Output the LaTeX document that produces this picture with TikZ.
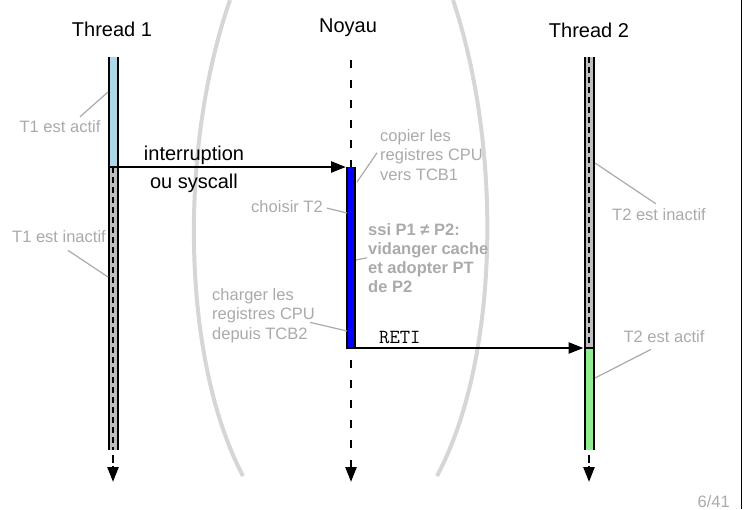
\documentclass[tikz,border=0pt]{standalone}
\usepackage{fontspec}
\setmainfont{Liberation Sans}
\usetikzlibrary{arrows.meta, calc, positioning}
\definecolor{notegray}{RGB}{170,170,170}
\definecolor{arcgray}{RGB}{214,214,214}
\definecolor{activeblue}{RGB}{173,216,230}
\definecolor{activegreen}{RGB}{144,238,144}
\definecolor{idlegray}{RGB}{190,190,190}

\begin{document}
\begin{tikzpicture}[
      x=1pt, y=-1pt,
      >={Triangle[length=15pt,width=11pt]},
      title/.style={
        font=\fontsize{20}{24}\selectfont,
        anchor=base,
        inner sep=0pt,
      },
      bar/.style={
        line width=2pt,
        double distance=7pt,
      },
      kernel-bar/.style={
        line width=2pt,
        double=blue,
        double distance=6pt,
      },
      idle-dash/.style={
        line width=2pt,
        dash pattern=on 6pt off 4pt,
      },
      lifeline/.style={
        ->,
        line width=2.5pt,
        dash pattern=on 8pt off 12pt,
      },
      lifeline-end/.style={
        ->,
        line width=2.5pt,
        dash pattern=on 8pt off 3pt,
      },
      message/.style={
        ->,
        line width=2.5pt,
      },
      note/.style={
        text=notegray,
        font=\fontsize{16.5}{19.5}\selectfont,
        inner sep=0pt,
        align=left,
      },
      note-bold/.style={
        note,
        font=\fontsize{16.5}{19}\selectfont\bfseries,
      },
      pointer/.style={
        draw=notegray,
        line width=1.2pt,
      },
      separator/.style={
        draw=arcgray,
        line width=4pt,
      },
    ]
    \useasboundingbox (0,0) rectangle (747,509);
    \coordinate (t1-top) at (113,57);
    \coordinate (t1-switch) at (113,167);
    \coordinate (t1-end) at (113,450);
    \coordinate (t1-tip) at (113,482);
    \coordinate (k-top) at (351,60);
    \coordinate (k-in) at (351,167);
    \coordinate (k-out) at (351,348);
    \coordinate (k-tip) at (351,482);
    \coordinate (t2-top) at (589,57);
    \coordinate (t2-switch) at (589,348);
    \coordinate (t2-end) at (589,450);
    \coordinate (t2-tip) at (589,482);
    \coordinate (frame-top) at (741.5,0);
    \coordinate (frame-bottom) at (741.5,509);
    % user / kernel boundaries
    \draw[separator] (230,0) .. controls (178,150) and (182,360) .. (243,476);
    \draw[separator] (453,0) .. controls (503,150) and (499,360) .. (437,476);
    \draw[line width=1.5pt] (frame-top) -- (frame-bottom);
    \node[title] (thread1-node) at (112,36) {Thread 1};
    \node[title] (noyau-node) at (348,32) {Noyau};
    \node[title] (thread2-node) at (589,37) {Thread 2};
    % thread 1
    \draw[bar, double=activeblue] (t1-top) -- (t1-switch);
    \draw[bar, double=idlegray] (t1-switch) -- (t1-end);
    \draw[idle-dash] (t1-switch) -- (t1-end);
    \draw[lifeline-end] ($(t1-end)+(0,5)$) -- (t1-tip);
    % noyau
    \draw[lifeline] (k-top) -- (k-tip);
    \draw[kernel-bar] (k-in) -- (k-out);
    % thread 2
    \draw[bar, double=idlegray] (t2-top) -- (t2-switch);
    \draw[idle-dash] (t2-top) -- (t2-switch);
    \draw[bar, double=activegreen] (t2-switch) -- (t2-end);
    \draw[lifeline-end] ($(t2-end)+(0,5)$) -- (t2-tip);
    % switches
    \draw[message, shorten <=-5.5pt, shorten >=5pt] (t1-switch) -- (k-in);
    \node[title] (interrupt-node) at (194,160) {interruption};
    \node[title] (syscall-node) at (194,188) {ou syscall};
    \draw[message, shorten <=-5pt, shorten >=5.5pt] (k-out) -- (t2-switch);
    \draw[line width=2pt] (t2-switch) ++(-5.5,0) -- ++(11,0);
    \node[title, anchor=base west, font=\fontsize{20}{24}\selectfont\ttfamily] (reti-node) at (379,343) {RETI};
    % notes
    \node[note, anchor=base] (t1-actif) at (60,132) {T1 est actif};
    \coordinate (t1-actif-pt) at (108,92);
    \draw[pointer] ($(t1-actif.north)+(20,-3)$) -- (t1-actif-pt);
    \node[note, anchor=base] (t1-inactif) at (59,242) {T1 est inactif};
    \coordinate (t1-inactif-pt) at (108,277);
    \draw[pointer] ($(t1-inactif.south)+(9,8)$) -- (t1-inactif-pt);
    \node[note, anchor=north west] (copier-node) at (380,129) {copier les\\registres CPU\\vers TCB1};
    \coordinate (copier-pt) at (357,182);
    \draw[pointer] ($(copier-node.west)+(-3,-2)$) -- (copier-pt);
    \node[note, anchor=base] (choisir-node) at (287,212) {choisir T2};
    \coordinate (choisir-pt) at (347,213);
    \draw[pointer] ($(choisir-node.east)+(4,2)$) -- (choisir-pt);
    \node[note-bold, anchor=north west] (ssi-node) at (368,223) {ssi P1 ≠ P2:\\vidanger cache\\et adopter PT\\de P2};
    \coordinate (ssi-pt) at (356,260);
    \draw[pointer] ($(ssi-node.west)+(-1,0)$) -- (ssi-pt);
    \node[note, anchor=north west] (charger-node) at (212,288) {charger les\\registres CPU\\depuis TCB2};
    \coordinate (charger-pt) at (347,331);
    \draw[pointer] ($(charger-node.east)+(-5,7)$) -- (charger-pt);
    \node[note, anchor=base] (t2-inactif) at (659,220) {T2 est inactif};
    \coordinate (t2-inactif-pt) at (595,163);
    \draw[pointer] ($(t2-inactif.north)+(-3,-4)$) -- (t2-inactif-pt);
    \node[note, anchor=base] (t2-actif) at (664,342) {T2 est actif};
    \coordinate (t2-actif-pt) at (595,378);
    \draw[pointer] ($(t2-actif.south)+(-13,7)$) -- (t2-actif-pt);
    \node[note, anchor=base east] (page-node) at (730,507) {6/41};
  \end{tikzpicture}
\end{document}
